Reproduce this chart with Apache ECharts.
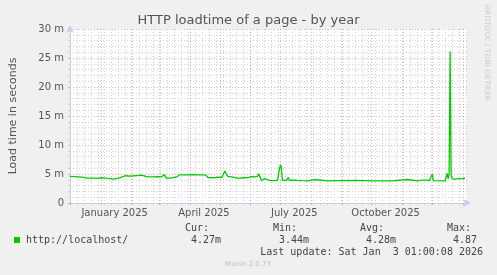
<!DOCTYPE html>
<html><head><meta charset="utf-8">
<script src="https://cdn.jsdelivr.net/npm/echarts@6/dist/echarts.min.js"></script>
<style>html,body{margin:0;padding:0;background:#f0f0f0}#c{width:497px;height:275px}</style>
</head><body><div id="c"></div>
<script>
// ---- data ----
const chartTitle = 'HTTP loadtime of a page - by year';
const yAxisTitle = 'Load time in seconds';
const seriesName = 'http://localhost/';
const periodStartUTC = [2024, 11, 1];   // left edge: 1 Dec 2024
const periodDays = 400;                 // munin "by year" window
const monthLabels = {
  '2025-01-15': 'January 2025',
  '2025-04-15': 'April 2025',
  '2025-07-15': 'July 2025',
  '2025-10-15': 'October 2025'
};
const yTickValues = [0, 5, 10, 15, 20, 25, 30];
// day offset from period start, and load time (milliseconds)
const sampleDay = [0,4,8,12,17,22,27,31,35,37,41,44,46,50,51,56,60,62,65,69,72,74,78,84,88,92,95,97,101,103,108,110,118,124,131,132,134,137,139,145,149,153,156,157,159,161,164,166,170,172,175,177,180,183,186,189,190,191,193,195,196,198,201,205,209,211,212,213,214,215,216,218,220,221,223,225,227,229,231,234,240,246,247,260,270,271,286,287,306,307,308,325,340,341,350,355,357,359,362,364,365,366,367,378,380,381,382,383,384,385,387,388,390,392,394,395,397,398];
const loadTimeMs = [4.6,4.55,4.5,4.45,4.3,4.3,4.25,4.35,4.3,4.15,4.2,4.1,4.3,4.35,4.65,4.7,4.65,4.8,4.7,4.75,4.8,4.6,4.5,4.5,4.55,4.5,4.9,4.3,4.3,4.55,4.5,4.85,4.85,4.88,4.85,5.0,4.85,4.8,4.4,4.35,4.45,4.4,5.5,5.75,4.6,4.4,4.45,4.25,4.25,4.5,4.35,4.5,4.4,4.55,4.5,4.6,5.05,4.7,3.85,4.0,4.2,4.0,3.9,3.85,3.9,5.8,6.6,6.1,3.9,3.7,4.0,3.9,4.4,3.9,4.2,3.95,4.1,3.9,4.0,3.85,3.8,4.05,3.8,3.8,3.85,3.8,3.9,3.8,3.8,4.1,3.8,3.8,4.05,3.8,3.8,3.95,3.8,3.95,3.85,4.0,4.95,3.85,3.8,3.8,5.1,4.2,4.9,26.1,4.9,4.2,4.35,4.1,4.3,4.2,4.5,4.2,4.45,4.27];
const statHeaders = ['Cur:', 'Min:', 'Avg:', 'Max:'];
const statValues = ['4.27m', '3.44m', '4.28m', '4.87'];
const lastUpdate = 'Last update: Sat Jan  3 01:00:08 2026';
const footerText = 'Munin 2.0.73';
const watermark = 'RRDTOOL / TOBI OETIKER';

// ---- axis categories: one per day ----
const categories = [];
const t0 = Date.UTC(periodStartUTC[0], periodStartUTC[1], periodStartUTC[2]);
for (let i = 0; i <= periodDays; i++) {
  categories.push(new Date(t0 + i * 864e5).toISOString().slice(0, 10));
}
const isMonthStart = (i, v) => v.slice(8) === '01';
const isWeek = (i) => i % 7 === 0;
const isLabel = (i, v) => monthLabels[v] !== undefined;

const FONT = 'DejaVu Sans';
const MONO = 'DejaVu Sans Mono';
const AXIS_C = '#c6cdf5';
const GRID_C = '#d2d2d2';
const MGRID_C = 'rgba(232,110,110,0.55)';

const chart = echarts.init(document.getElementById('c'), null, {renderer: 'canvas'});
const statX = [185, 273, 360, 447];
const valX = [191, 279, 366, 453];
const graphics = [
  {type: 'rect', shape: {x: 14, y: 237, width: 6, height: 6}, style: {fill: '#00cc00'}},
  {type: 'text', x: 26, y: 240, style: {text: seriesName, font: '10px ' + MONO, fill: '#444', verticalAlign: 'middle'}},
  {type: 'text', x: 483, y: 252, style: {text: lastUpdate, font: '10px ' + MONO, fill: '#444', align: 'right', verticalAlign: 'middle'}},
  {type: 'text', x: 248, y: 264, style: {text: footerText, font: '7px ' + FONT, fill: '#c0c0c0', align: 'center', verticalAlign: 'middle'}},
  {type: 'text', x: 487, y: 53, rotation: -Math.PI / 2, style: {text: watermark, font: '7.5px ' + FONT, fill: '#cccccc', align: 'center', verticalAlign: 'middle'}}
];
statHeaders.forEach((h, i) => graphics.push({type: 'text', x: statX[i], y: 228, style: {text: h, font: '10px ' + MONO, fill: '#444', verticalAlign: 'middle'}}));
statValues.forEach((v, i) => graphics.push({type: 'text', x: valX[i], y: 240, style: {text: v, font: '10px ' + MONO, fill: '#444', verticalAlign: 'middle'}}));

chart.setOption({
  animation: false,
  backgroundColor: '#f0f0f0',
  textStyle: {fontFamily: FONT},
  title: {text: chartTitle, left: 'center', top: 9, textStyle: {fontFamily: FONT, fontSize: 13, fontWeight: 'normal', color: '#555'}},
  grid: {left: 67, right: 30, top: 29, bottom: 72, show: true, backgroundColor: '#ffffff', borderWidth: 0},
  xAxis: [
    {
      type: 'category', data: categories, boundaryGap: false,
      axisLine: {show: true, lineStyle: {color: AXIS_C, width: 1}, symbol: ['none', 'arrow'], symbolSize: [6, 8], symbolOffset: [0, 4]},
      axisTick: {show: true, interval: isWeek, length: 2, lineStyle: {color: GRID_C}},
      splitLine: {show: true, interval: isWeek, lineStyle: {color: GRID_C, type: [1, 2], width: 1}},
      axisLabel: {show: true, interval: isLabel, formatter: v => monthLabels[v] || '', fontSize: 10, color: '#555', margin: 5, fontFamily: FONT}
    },
    {
      type: 'category', data: categories, boundaryGap: false, position: 'bottom',
      axisLine: {show: false},
      axisTick: {show: true, interval: isMonthStart, length: 2, lineStyle: {color: MGRID_C}},
      splitLine: {show: true, interval: isMonthStart, lineStyle: {color: MGRID_C, type: [1, 2], width: 1}},
      axisLabel: {show: false}
    }
  ],
  yAxis: {
    type: 'value', min: 0, max: 30, interval: 5,
    name: yAxisTitle, nameLocation: 'middle', nameGap: 51,
    nameTextStyle: {fontSize: 11, color: '#555', fontFamily: FONT},
    axisLine: {show: true, lineStyle: {color: AXIS_C}, symbol: ['none', 'arrow'], symbolSize: [6, 8], symbolOffset: [0, 4]},
    axisTick: {show: true, length: 2, lineStyle: {color: MGRID_C}},
    minorTick: {show: true, splitNumber: 5, length: 2, lineStyle: {color: GRID_C}},
    splitLine: {show: true, lineStyle: {color: MGRID_C, type: [1, 2]}},
    minorSplitLine: {show: true, lineStyle: {color: GRID_C, type: [1, 2]}},
    axisLabel: {formatter: v => yTickValues.includes(v) ? (v === 0 ? '0' : v + ' m') : '', fontSize: 10, color: '#555', margin: 6, fontFamily: FONT}
  },
  series: [{
    name: seriesName, type: 'line', xAxisIndex: 0,
    data: sampleDay.map((d, i) => [d, loadTimeMs[i]]),
    symbol: 'none', lineStyle: {color: '#00cc00', width: 1.3}, itemStyle: {color: '#00cc00'}, z: 5
  }],
  graphic: graphics
});
</script>
</body></html>
